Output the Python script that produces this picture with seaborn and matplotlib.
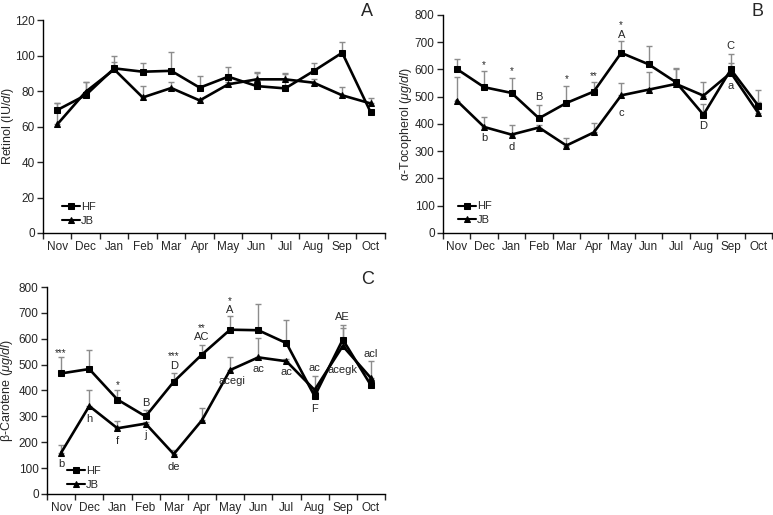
import numpy as np
import pandas as pd
import matplotlib
matplotlib.use("Agg")
import matplotlib.pyplot as plt
import seaborn as sns

months = ["Nov", "Dec", "Jan", "Feb", "Mar", "Apr", "May", "Jun", "Jul", "Aug", "Sep", "Oct"]

# Panel A - Retinol (IU/dl)
retinol_hf = [69.3, 77.7, 92.8, 90.9, 91.4, 81.9, 88.1, 82.8, 81.5, 91.3, 101.6, 68.0]
retinol_hf_err = [4.1, 7.3, 6.9, 5.1, 10.4, 6.6, 5.6, 8.1, 8.5, 4.3, 5.8, 1.5]
retinol_jb = [61.2, 79.6, 92.2, 76.4, 81.7, 74.7, 83.8, 86.6, 86.6, 84.7, 77.6, 73.0]
retinol_jb_err = [11.8, 5.4, 4.3, 6.4, 3.6, 0.8, 1.2, 3.4, 2.9, 2.1, 4.8, 3.0]

# Panel B - alpha-Tocopherol (ug/dl)
toco_hf = [602, 535, 514, 421, 477, 519, 661, 619, 553, 434, 600, 467]
toco_hf_err = [37, 60, 54, 47, 64, 34, 45, 66, 51, 41, 58, 57]
toco_jb = [486, 389, 361, 387, 321, 369, 505, 526, 547, 504, 588, 440]
toco_jb_err = [88, 36, 34, 8, 27, 34, 45, 66, 56, 49, 37, 42]

# Panel C - beta-Carotene (ug/dl)
carot_hf = [466, 483, 365, 300, 434, 539, 635, 633, 583, 378, 597, 420]
carot_hf_err = [62, 75, 35, 26, 35, 37, 52, 100, 91, 12, 55, 20]
carot_jb = [159, 340, 254, 272, 154, 285, 479, 528, 513, 402, 572, 448]
carot_jb_err = [31, 60, 29, 8, 16, 49, 51, 74, 7, 54, 70, 67]

# annotations: (month index, y value, text, kind)
annot_b = [
    (1, 617, "*", "s"), (2, 594, "*", "s"), (3, 498, "B", "t"), (4, 564, "*", "s"),
    (5, 576, "**", "s"), (6, 762, "*", "s"), (6, 726, "A", "t"), (10, 686, "C", "t"),
    (10, 541, "a", "t"), (1, 347, "b", "t"), (2, 317, "d", "t"), (6, 440, "c", "t"),
    (9, 394, "D", "t"),
]
annot_c = [
    (0, 546, "***", "s"), (2, 421, "*", "s"), (3, 350, "B", "t"), (4, 532, "***", "s"),
    (4, 494, "D", "t"), (5, 642, "**", "s"), (5, 607, "AC", "t"), (6, 747, "*", "s"),
    (6, 710, "A", "t"), (10, 685, "AE", "t"), (11, 541, "acl", "t"), (9, 488, "ac", "t"),
    (9, 328, "F", "t"), (7, 485, "ac", "t"), (8, 470, "ac", "t"), (10, 479, "acegk", "t"),
    (6.05, 436, "acegi", "t"), (0, 115, "b", "t"), (1, 288, "h", "t"), (2, 205, "f", "t"),
    (3, 228, "j", "t"), (4, 105, "de", "t"),
]

sns.set_style("ticks")
plt.rcParams["font.family"] = ["Liberation Sans", "DejaVu Sans"]
plt.rcParams["mathtext.fontset"] = "custom"
plt.rcParams["mathtext.rm"] = "Liberation Sans"
plt.rcParams["mathtext.it"] = "Liberation Sans:italic"
plt.rcParams["mathtext.bf"] = "Liberation Sans:bold"

fig = plt.figure(figsize=(7.73, 5.15), dpi=100)
axA = fig.add_axes([0.0556, 0.5476, 0.4424, 0.4134])
axB = fig.add_axes([0.5731, 0.5476, 0.4256, 0.4233])
axC = fig.add_axes([0.0608, 0.0408, 0.4373, 0.4019])


def panel(ax, hf, hf_err, jb, jb_err, ymax, ystep, ylabel, label_x, letter, letter_xy,
          annots, legend_anchor):
    x = np.arange(len(months))
    df = pd.DataFrame({
        "month": np.concatenate([x, x]),
        "value": np.concatenate([hf, jb]),
        "group": ["HF"] * len(x) + ["JB"] * len(x),
    })
    ax.errorbar(x, hf, yerr=[np.zeros(len(x)), hf_err], fmt="none", ecolor="#8c8c8c",
                elinewidth=1.0, capsize=2.5, capthick=1.0, zorder=1)
    ax.errorbar(x, jb, yerr=[np.zeros(len(x)), jb_err], fmt="none", ecolor="#8c8c8c",
                elinewidth=1.0, capsize=2.5, capthick=1.0, zorder=1)
    sns.lineplot(data=df, x="month", y="value", hue="group", style="group",
                 markers={"HF": "s", "JB": "^"}, dashes=False,
                 palette={"HF": "black", "JB": "black"}, linewidth=1.9,
                 markersize=4.5, markeredgecolor="black", ax=ax, zorder=3,
                 sort=False)
    ax.set_xlim(-0.5, len(months) - 0.5)
    ax.set_ylim(0, ymax)
    ax.set_yticks(np.arange(0, ymax + 1, ystep))
    ax.set_xticks(x)
    ax.set_xticklabels(months)
    ax.set_xticks(np.arange(-0.5, len(months), 1.0), minor=True)
    ax.tick_params(axis="x", which="major", length=0, labelsize=8.5, pad=6)
    ax.tick_params(axis="x", which="minor", length=4, width=1, direction="out")
    ax.tick_params(axis="y", length=4, width=1, direction="out", labelsize=8.5, pad=2)
    for s in ["top", "right"]:
        ax.spines[s].set_visible(False)
    for s in ["left", "bottom"]:
        ax.spines[s].set_linewidth(1.0)
        ax.spines[s].set_color("black")
    ax.set_xlabel("")
    ax.set_ylabel(ylabel, fontsize=9)
    ax.yaxis.set_label_coords(label_x, 0.5)
    ax.text(letter_xy[0], letter_xy[1], letter, transform=ax.transAxes, fontsize=13,
            ha="center", va="center")
    for (mi, yv, txt, kind) in annots:
        ax.text(mi, yv, txt, ha="center", va="center",
                fontsize=7 if kind == "s" else 8, zorder=5)
    leg = ax.legend(loc="lower left", bbox_to_anchor=legend_anchor, frameon=False,
                    fontsize=8, handlelength=1.6, handletextpad=0.1,
                    labelspacing=0.35, borderpad=0, borderaxespad=0)
    for line in leg.get_lines():
        line.set_linewidth(1.5)


panel(axA, retinol_hf, retinol_hf_err, retinol_jb, retinol_jb_err, 120, 20,
      r"Retinol (IU/$\mathit{dl}$)", -0.078, "A", (0.947, 1.038), [], (0.055, 0.035))
panel(axB, toco_hf, toco_hf_err, toco_jb, toco_jb_err, 800, 100,
      r"α-Tocopherol ($\mathit{\mu g/dl}$)", -0.088, "B", (0.957, 1.014), annot_b,
      (0.045, 0.035))
panel(axC, carot_hf, carot_hf_err, carot_jb, carot_jb_err, 800, 100,
      r"β-Carotene ($\mathit{\mu g/dl}$)", -0.095, "C", (0.947, 1.034), annot_c,
      (0.06, 0.02))

fig.savefig("out.png", dpi=100)
